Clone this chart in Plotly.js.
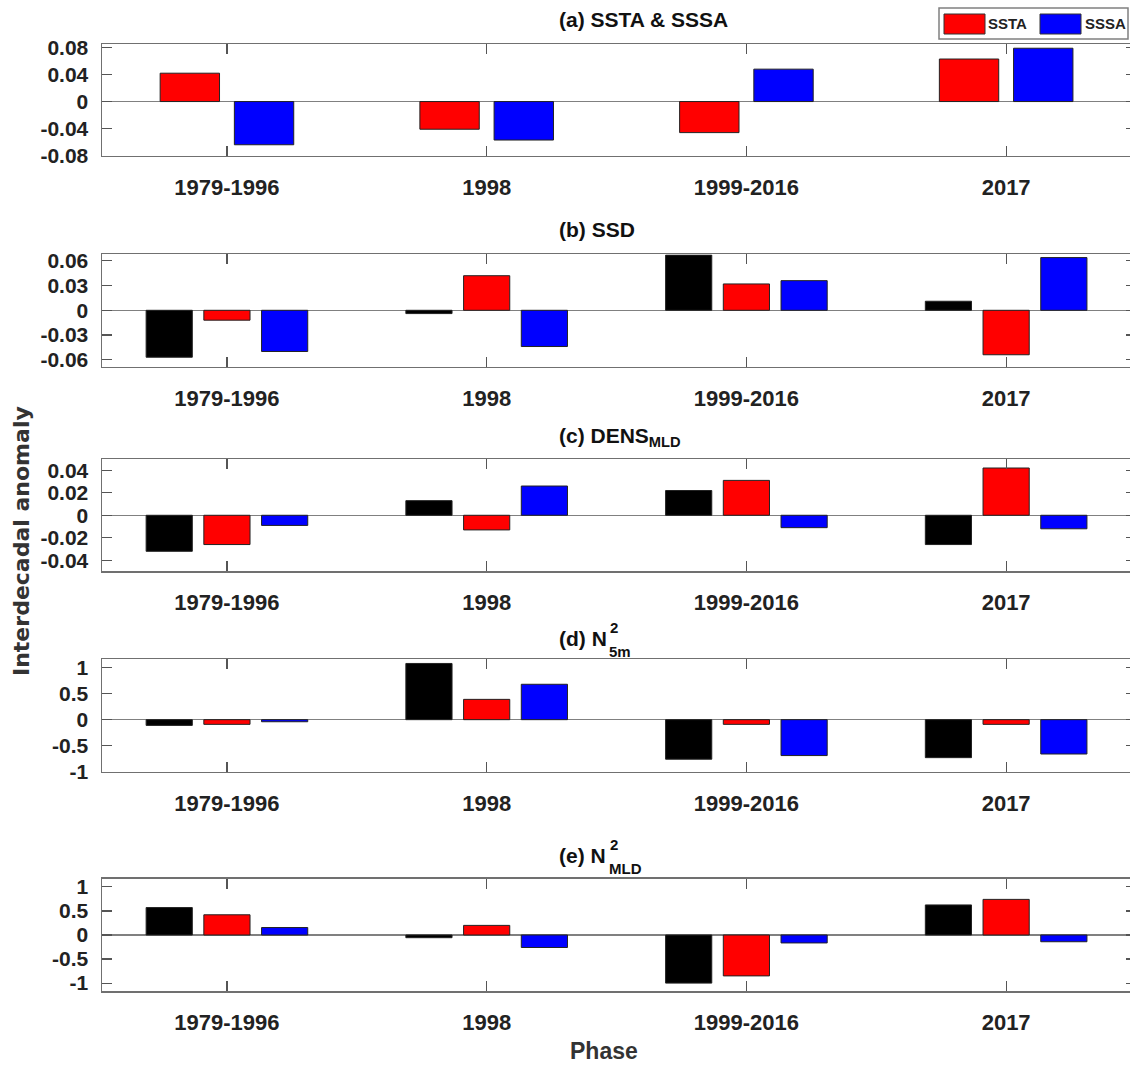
<!DOCTYPE html>
<html>
<head>
<meta charset="utf-8">
<script src="https://cdn.plot.ly/plotly-3.0.1.min.js"></script>
<style>
html,body{margin:0;padding:0;overflow:hidden;background:#fff;}
#chart{width:1140px;height:1066px;}
</style>
</head>
<body>
<div id="chart"></div>
<script>
// ---------------- data ----------------
const categories = ["1979-1996", "1998", "1999-2016", "2017"];

const a_ssta  = [0.042, -0.041, -0.046, 0.063];
const a_sssa  = [-0.064, -0.057, 0.048, 0.079];

const b_total = [-0.057, -0.004, 0.067, 0.011];
const b_ssta  = [-0.012, 0.042, 0.032, -0.054];
const b_sssa  = [-0.050, -0.044, 0.036, 0.064];

const c_total = [-0.032, 0.013, 0.022, -0.026];
const c_ssta  = [-0.026, -0.013, 0.031, 0.042];
const c_sssa  = [-0.009, 0.026, -0.011, -0.012];

const d_total = [-0.11, 1.08, -0.76, -0.73];
const d_ssta  = [-0.09, 0.39, -0.09, -0.09];
const d_sssa  = [-0.04, 0.68, -0.69, -0.66];

const e_total = [0.57, -0.056, -1.0, 0.625];
const e_ssta  = [0.42, 0.20, -0.85, 0.74];
const e_sssa  = [0.155, -0.26, -0.165, -0.14];

const tickA = [-0.08, -0.04, 0, 0.04, 0.08];
const tickA_text = ["-0.08", "-0.04", "0", "0.04", "0.08"];
const tickB = [-0.06, -0.03, 0, 0.03, 0.06];
const tickB_text = ["-0.06", "-0.03", "0", "0.03", "0.06"];
const tickC = [-0.04, -0.02, 0, 0.02, 0.04];
const tickC_text = ["-0.04", "-0.02", "0", "0.02", "0.04"];
const tickN = [-1, -0.5, 0, 0.5, 1];
const tickN_text = ["-1", "-0.5", "0", "0.5", "1"];

const panelTitles = ["(a) SSTA & SSSA", "(b) SSD", "(c) DENS<sub>MLD</sub>", "(d) N", "(e) N"];
const seriesNames = ["SSD total", "SSTA", "SSSA"];
const yTitle = "Interdecadal anomaly";
const xTitle = "Phase";

// ---------------- layout helpers ----------------
const W = 1140, H = 1066, ML = 102, MR = 4;
const PW = W - ML - MR;
const px = v => (v - ML) / PW;      // pixel x -> paper
const py = v => 1 - v / H;          // pixel y -> paper

const FONT = "Liberation Sans, Arial, Helvetica, sans-serif";
const RED = "#ff0000", BLUE = "#0000ff", BLACK = "#000000";
const EDGE = {color: "#222222", width: 1};

const traces = [];
function bar(y, name, color, axisIdx, offset, width) {
  const sfx = axisIdx === 1 ? "" : String(axisIdx);
  traces.push({
    type: "bar", x: categories, y: y, name: name,
    xaxis: "x" + sfx, yaxis: "y" + sfx,
    marker: {color: color, line: EDGE},
    offset: offset, width: width,
    showlegend: false, hoverinfo: "x+y+name"
  });
}
// two-series group
const w2 = 0.2286, o2 = [-0.2571, 0.0286];
// three-series group
const w3 = 0.1778, o3 = [-0.3111, -0.0889, 0.1333];

bar(a_ssta, seriesNames[1], RED, 1, o2[0], w2);
bar(a_sssa, seriesNames[2], BLUE, 1, o2[1], w2);

const panels = [
  [b_total, b_ssta, b_sssa],
  [c_total, c_ssta, c_sssa],
  [d_total, d_ssta, d_sssa],
  [e_total, e_ssta, e_sssa]
];
panels.forEach((p, i) => {
  bar(p[0], seriesNames[0], BLACK, i + 2, o3[0], w3);
  bar(p[1], seriesNames[1], RED, i + 2, o3[1], w3);
  bar(p[2], seriesNames[2], BLUE, i + 2, o3[2], w3);
});

// pixel frames of each panel (top, bottom)
const frames = [[44.3, 155.7], [254.3, 366.7], [459, 571], [659.3, 771.7], [878.7, 991.3]];
const yranges = [[-0.0802, 0.0848], [-0.0685, 0.068], [-0.0495, 0.05], [-1.0, 1.16], [-1.17, 1.17]];
const yticks = [[tickA, tickA_text], [tickB, tickB_text], [tickC, tickC_text], [tickN, tickN_text], [tickN, tickN_text]];

const AXCOL = "#707070";
const layout = {
  width: W, height: H,
  margin: {l: ML, r: MR, t: 0, b: 0},
  paper_bgcolor: "#ffffff", plot_bgcolor: "#ffffff",
  barmode: "overlay",
  font: {family: FONT, color: "#111111", size: 20, weight: "bold"},
  showlegend: false,
  annotations: [], shapes: []
};

frames.forEach((f, i) => {
  const sfx = i === 0 ? "" : String(i + 1);
  layout["xaxis" + sfx] = {
    anchor: "y" + sfx, domain: [0, 1],
    type: "category", categoryarray: categories,
    range: [-0.481, 3.5],
    showline: true, linecolor: AXCOL, linewidth: 1.5, mirror: "ticks",
    ticks: "inside", ticklen: 10, tickwidth: 1.2, tickcolor: "#555555",
    showgrid: false, zeroline: false,
    tickfont: {family: FONT, size: 22, color: "#222222", weight: "bold"},
    ticklabelstandoff: 11
  };
  layout["yaxis" + sfx] = {
    anchor: "x" + sfx, domain: [py(f[1]), py(f[0])],
    range: yranges[i],
    tickmode: "array", tickvals: yticks[i][0], ticktext: yticks[i][1],
    showline: true, linecolor: AXCOL, linewidth: 1.5, mirror: "ticks",
    ticks: "inside", ticklen: 10, tickwidth: 1.2, tickcolor: "#555555",
    showgrid: false, zeroline: true, zerolinecolor: "#808080", zerolinewidth: 1.5,
    tickfont: {family: FONT, size: 21, color: "#222222", weight: "bold"},
    ticklabelstandoff: 8
  };
});

// panel titles
const titleY = [20, 230, 437, 638, 855];
panelTitles.forEach((t, i) => {
  layout.annotations.push({
    xref: "paper", yref: "paper", x: px(557), y: py(titleY[i]),
    xanchor: "left", yanchor: "middle", showarrow: false, text: t,
    font: {family: FONT, size: 21, color: "#111111", weight: "bold"}
  });
});
// stacked super/subscripts for N^2 (placed right after "(d) N" / "(e) N")
const supsub = [
  ["2", 608, 627], ["5m", 607, 651],
  ["2", 608, 844], ["MLD", 607, 868]
];
supsub.forEach(s => {
  layout.annotations.push({
    xref: "paper", yref: "paper", x: px(s[1]), y: py(s[2]),
    xanchor: "left", yanchor: "middle", showarrow: false, text: s[0],
    font: {family: FONT, size: 15, color: "#111111", weight: "bold"}
  });
});

// axis titles
layout.annotations.push({
  xref: "paper", yref: "paper", x: px(21), y: py(541),
  xanchor: "center", yanchor: "middle", textangle: -90, showarrow: false,
  text: yTitle, font: {family: "DejaVu Sans, Liberation Sans, sans-serif", size: 22, color: "#333333", weight: "bold"}
});
layout.annotations.push({
  xref: "paper", yref: "paper", x: px(604), y: py(1051),
  xanchor: "center", yanchor: "middle", showarrow: false,
  text: xTitle, font: {family: FONT, size: 23, color: "#333333", weight: "bold"}
});

// legend box (drawn manually to match the large swatches)
layout.shapes.push({type: "rect", xref: "paper", yref: "paper",
  x0: px(939), x1: px(1128), y0: py(39), y1: py(8),
  line: {color: "#808080", width: 1.5}, fillcolor: "#ffffff", layer: "above"});
layout.shapes.push({type: "rect", xref: "paper", yref: "paper",
  x0: px(944), x1: px(985), y0: py(34), y1: py(14),
  line: {color: "#333333", width: 1}, fillcolor: RED, layer: "above"});
layout.shapes.push({type: "rect", xref: "paper", yref: "paper",
  x0: px(1040), x1: px(1081), y0: py(34), y1: py(14),
  line: {color: "#333333", width: 1}, fillcolor: BLUE, layer: "above"});
layout.annotations.push({xref: "paper", yref: "paper", x: px(986), y: py(24),
  xanchor: "left", yanchor: "middle", showarrow: false, text: seriesNames[1],
  font: {family: FONT, size: 15, color: "#222222", weight: "bold"}});
layout.annotations.push({xref: "paper", yref: "paper", x: px(1083), y: py(24),
  xanchor: "left", yanchor: "middle", showarrow: false, text: seriesNames[2],
  font: {family: FONT, size: 15, color: "#222222", weight: "bold"}});

Plotly.newPlot("chart", traces, layout, {displayModeBar: false, staticPlot: true});
</script>
</body>
</html>
